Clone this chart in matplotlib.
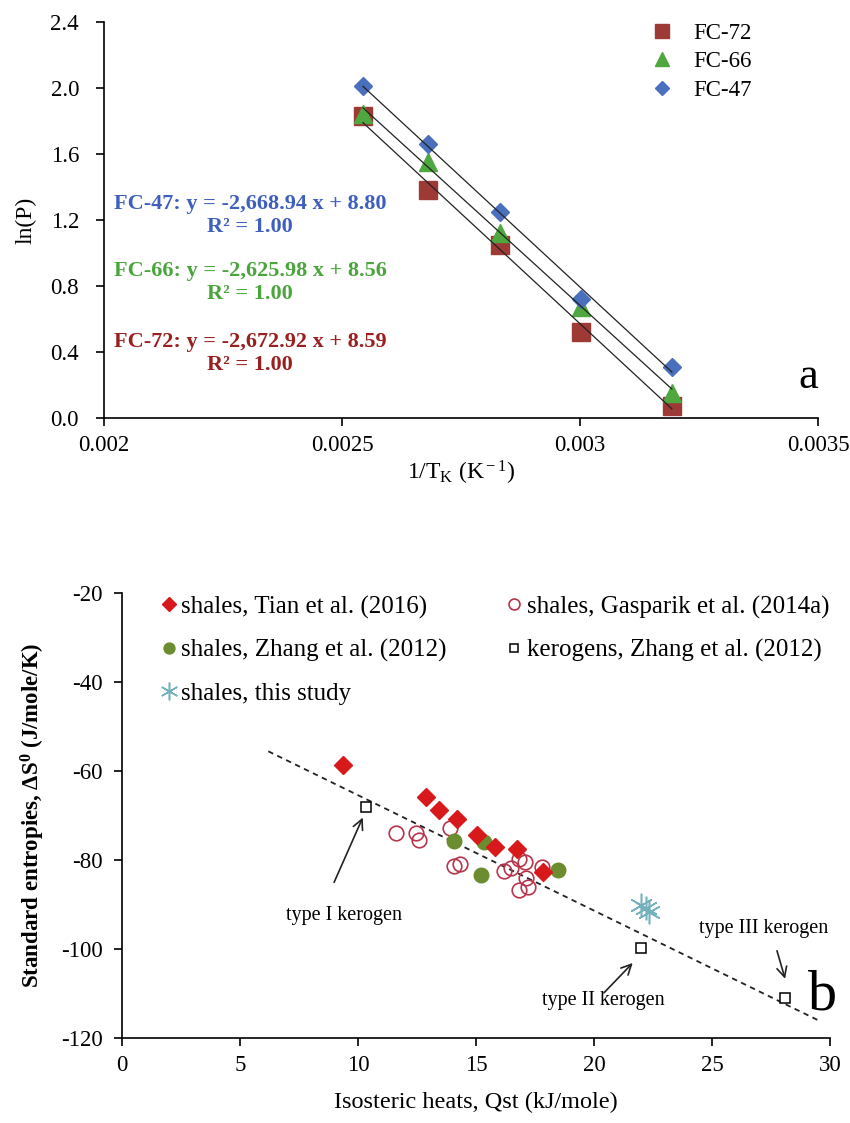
"""Two-panel figure: ln(P) vs 1/T fits (a) and entropy vs isosteric heat (b)."""

import numpy as np
import matplotlib
matplotlib.use("Agg")
import matplotlib.pyplot as plt

plt.rcParams["font.family"] = ["Liberation Serif", "DejaVu Serif"]
plt.rcParams["mathtext.fontset"] = "custom"
plt.rcParams["mathtext.rm"] = "Liberation Serif"
plt.rcParams["mathtext.it"] = "Liberation Serif:italic"
plt.rcParams["mathtext.bf"] = "Liberation Serif:bold"
plt.rcParams["axes.unicode_minus"] = False

# ---- panel a data ----
inv_t = [0.002544, 0.002680, 0.002832, 0.003002, 0.003193]
lnp_fc72 = [1.83, 1.38, 1.05, 0.52, 0.07]
lnp_fc66 = [1.84, 1.55, 1.12, 0.67, 0.15]
lnp_fc47 = [2.01, 1.66, 1.25, 0.72, 0.31]
fit_slope = {"FC-72": -2672.92, "FC-66": -2625.98, "FC-47": -2668.94}
fit_icept = {"FC-72": 8.59, "FC-66": 8.56, "FC-47": 8.80}

# ---- panel b data ----
tian_q = [9.38, 12.9, 13.45, 14.18, 15.05, 15.8, 16.75, 17.85]
tian_s = [-58.6, -65.9, -68.7, -70.9, -74.5, -77.0, -77.5, -82.6]
gasp_q = [11.63, 12.45, 12.6, 13.9, 14.05, 14.32, 16.2, 16.5, 16.84, 17.08,
          17.78, 17.12, 16.84, 17.22]
gasp_s = [-74.0, -73.9, -75.5, -72.9, -81.3, -80.9, -82.4, -81.8, -79.8, -80.4,
          -81.5, -84.1, -86.7, -86.0]
zhang_q = [14.07, 15.34, 15.2, 18.47]
zhang_s = [-75.7, -75.9, -83.3, -82.3]
kero_q = [10.34, 21.99, 28.1]
kero_s = [-68.0, -99.8, -111.1]
this_q = [22.0, 22.2, 22.35]
this_s = [-90.2, -90.9, -91.8]
trend_q = [6.2, 29.6]
trend_slope, trend_icept = -2.594, -39.5

fig = plt.figure(figsize=(8.5, 11.23), dpi=100, facecolor="white")


def style_axes(ax, ypad):
    for s in ("top", "right"):
        ax.spines[s].set_visible(False)
    for s in ("left", "bottom"):
        ax.spines[s].set_linewidth(1.2)
    ax.tick_params(direction="out", length=6, width=1.2, labelsize=16.5, pad=6)
    ax.tick_params(axis="y", pad=ypad)


# ---------------- panel a ----------------
ax1 = fig.add_axes([0.1224, 0.6278, 0.84, 0.3526])
style_axes(ax1, 12)

series = [
    ("FC-72", lnp_fc72, "s", "#9e3a36", 12.5),
    ("FC-66", lnp_fc66, "^", "#4ea73f", 12.5),
    ("FC-47", lnp_fc47, "D", "#4a6fbd", 9),
]
for name, vals, mk, col, ms in series:
    ax1.plot(inv_t, vals, linestyle="none", marker=mk, color=col,
             markersize=ms, label=name, zorder=3)
for name, vals, mk, col, ms in series:
    xx = np.array([inv_t[0], inv_t[-1]])
    ax1.plot(xx, fit_slope[name] * xx + fit_icept[name], color="#222222",
             linewidth=0.9, zorder=4)

ax1.set_xlim(0.002, 0.0035)
ax1.set_ylim(0, 2.4)
ax1.set_xticks([0.002, 0.0025, 0.003, 0.0035])
ax1.set_xticklabels(["0.002", "0.0025", "0.003", "0.0035"])
ax1.set_yticks(np.arange(0, 2.41, 0.4))
ax1.set_yticklabels([f"{v:.1f}" for v in np.arange(0, 2.41, 0.4)])
ax1.set_ylabel("ln(P)", fontsize=17, labelpad=10)
ax1.set_xlabel(r"1/T$_{\rm K}$ (K$^{\rm -1}$)", fontsize=17, labelpad=2)

ax1.legend(loc="upper left", bbox_to_anchor=(0.72, 1.05), frameon=False,
           fontsize=16.5, handletextpad=0.4, labelspacing=0.32, markerscale=0.8)

eq_texts = [
    ("FC-47", "#3f5fbf", 0.002307, 1.23),
    ("FC-66", "#4aa63c", 0.002307, 0.82),
    ("FC-72", "#9a1f1f", 0.002307, 0.39),
]
for name, col, tx, ty in eq_texts:
    sl = fit_slope[name]
    txt = f"{name}: y = -{abs(sl):,.2f} x + {fit_icept[name]:.2f}\nR² = 1.00"
    ax1.text(tx, ty, txt, color=col, fontsize=16, fontweight="bold",
             ha="center", va="center", linespacing=1.2)

ax1.text(0.003479, 0.25, "a", fontsize=32, ha="center", va="center")

# ---------------- panel b ----------------
ax2 = fig.add_axes([0.1435, 0.0757, 0.833, 0.3963])
style_axes(ax2, 8)

ax2.plot(trend_q, [trend_slope * q + trend_icept for q in trend_q],
         color="#222222", linestyle=(0, (3, 2.5)), linewidth=1.3, zorder=1)
ax2.plot(gasp_q, gasp_s, linestyle="none", marker="o", markersize=10.5,
         markerfacecolor="none", markeredgecolor="#b8344a", markeredgewidth=1.2,
         label="shales, Gasparik et al. (2014a)", zorder=2)
ax2.plot(zhang_q, zhang_s, linestyle="none", marker="o", markersize=10.5,
         color="#6b8c2f", label="shales, Zhang et al. (2012)", zorder=3)
ax2.plot(tian_q, tian_s, linestyle="none", marker="D", markersize=9,
         color="#d7191c", label="shales, Tian et al. (2016)", zorder=4)
ax2.plot(kero_q, kero_s, linestyle="none", marker="s", markersize=7,
         markerfacecolor="white", markeredgecolor="black", markeredgewidth=1.1,
         label="kerogens, Zhang et al. (2012)", zorder=5)
ax2.plot(this_q, this_s, linestyle="none", marker=(6, 2, 0), markersize=17,
         markeredgecolor="#72b0bc", markeredgewidth=1.1,
         label="shales, this study", zorder=5)

ax2.set_xlim(0, 30)
ax2.set_ylim(-120, -20)
ax2.set_xticks(range(0, 31, 5))
ax2.set_yticks(range(-120, -19, 20))
ax2.set_xlabel("Isosteric heats, Qst (kJ/mole)", fontsize=17.5, labelpad=12)
ax2.set_ylabel(r"Standard entropies, ΔS$^{\mathbf{0}}$ (J/mole/K)",
               fontsize=16.5, fontweight="bold", labelpad=10)

h, l = ax2.get_legend_handles_labels()
order = ["shales, Tian et al. (2016)", "shales, Zhang et al. (2012)",
         "shales, this study", "shales, Gasparik et al. (2014a)",
         "kerogens, Zhang et al. (2012)"]
hl = dict(zip(l, h))
ax2.legend([hl[k] for k in order], order, ncol=2, loc="upper left",
           bbox_to_anchor=(0.024, 1.045), frameon=False, fontsize=18,
           handlelength=0.6, handletextpad=0.2, columnspacing=2.4,
           labelspacing=0.82, markerscale=0.75)

arrow_kw = dict(arrowstyle="->", color="#222222", lw=1.2, mutation_scale=18)
ax2.text(9.4, -92.5, "type I kerogen", fontsize=14.5, ha="center", va="center")
ax2.annotate("", xy=(10.25, -69.9), xytext=(8.94, -85.6), arrowprops=arrow_kw)
ax2.text(20.38, -111.5, "type II kerogen", fontsize=14.5, ha="center", va="center")
ax2.annotate("", xy=(21.72, -102.7), xytext=(20.34, -110.3), arrowprops=arrow_kw)
ax2.text(27.2, -95.5, "type III kerogen", fontsize=14.5, ha="center", va="center")
ax2.annotate("", xy=(28.13, -107.3), xytext=(27.72, -99.8), arrowprops=arrow_kw)

ax2.text(29.7, -110.5, "b", fontsize=42, ha="center", va="center")

fig.savefig("out.png", dpi=100, facecolor="white")
plt.close(fig)
